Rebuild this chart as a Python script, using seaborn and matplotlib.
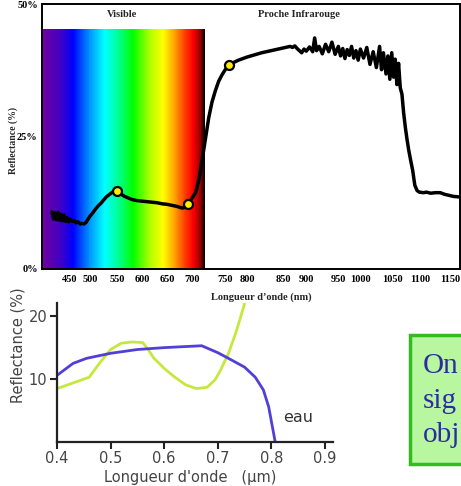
import numpy as np
import pandas as pd
import matplotlib
matplotlib.use("Agg")
import matplotlib.pyplot as plt
import seaborn as sns
from matplotlib.colors import LinearSegmentedColormap
from matplotlib.patches import Rectangle

# ---------------- data: vegetation reflectance spectrum (top chart) ----------------
veg_nm = [414, 417, 420, 423, 426, 429, 432, 435, 438, 441, 444, 447, 450, 455, 460, 465, 470, 475, 480, 485, 490,
          495, 500, 505, 510, 515, 520, 525, 530, 535, 540, 545, 550, 555, 560, 565, 570,
          575, 580, 590, 600, 610, 620, 630, 640, 650, 660, 670, 680, 685, 690, 695, 700,
          705, 710, 715, 720, 725, 730, 735, 740, 745, 750, 755, 760, 770, 780, 790, 800,
          810, 820, 830, 840, 850, 860, 865, 870, 875, 880, 885, 890, 895, 900, 905, 910,
          913, 916, 920, 925, 930, 935, 940, 945, 950, 955, 960, 965, 970, 975, 980, 985,
          990, 995, 1000, 1005, 1010, 1015, 1020, 1025, 1030, 1033, 1036, 1040, 1043, 1046,
          1049, 1052, 1055, 1058, 1061, 1064, 1067, 1070, 1073, 1076, 1079, 1082, 1086,
          1090, 1094, 1098, 1105, 1110, 1117, 1125, 1133, 1140, 1147, 1155, 1165]
veg_refl = [10.8, 9.4, 10.6, 9.3, 10.7, 9.2, 10.3, 9.1, 10.2, 9.0, 9.7, 8.9, 9.4, 9.0, 9.2, 8.7, 8.9, 8.5, 8.6, 8.5, 8.8,
            9.4, 10.0, 10.6, 11.3, 11.9, 12.4, 13.0, 13.6, 14.0, 14.4, 14.7, 14.8, 14.5, 14.0, 13.7, 13.5,
            13.3, 13.1, 12.9, 12.8, 12.7, 12.6, 12.5, 12.3, 12.2, 12.0, 11.8, 11.5, 11.6, 12.1, 12.6, 13.4,
            14.4, 16.8, 20.5, 24.5, 28.5, 31.5, 33.6, 35.4, 36.6, 37.6, 38.1, 38.5, 39.0, 39.4, 39.7, 40.0,
            40.4, 40.8, 41.1, 41.4, 41.7, 41.9, 42.0, 41.8, 42.1, 41.6, 41.2, 40.8, 41.5, 41.1, 41.9, 41.0,
            43.6, 41.2, 42.0, 40.6, 42.4, 41.0, 42.8, 40.5, 42.0, 40.2, 41.6, 39.7, 41.4, 40.3, 42.0, 39.8,
            41.2, 39.4, 41.5, 39.8, 41.8, 38.6, 41.0, 38.0, 42.0, 37.6, 40.8, 36.8, 40.2, 35.8,
            40.8, 36.2, 39.6, 34.8, 38.8, 34.2, 33.0, 29.5, 26.8, 24.5, 22.5, 20.8, 18.7,
            15.8, 14.8, 14.5, 14.4, 14.5, 14.3, 14.4, 14.4, 14.1, 13.9, 13.7, 13.6]
marker_nm = [550, 692, 759]
marker_refl = [14.7, 12.3, 38.5]

x_ticks_nm = [450, 500, 550, 600, 650, 700, 750, 800, 850, 900, 950, 1000, 1050, 1100, 1150]
y_ticks_pct = [0, 25, 50]
y_tick_labels = ["0%", "25%", "50%"]

# uneven wavelength axis of the original figure (value -> drawing position)
axis_knots_nm = [380, 450, 500, 550, 600, 650, 700, 750, 800, 850, 900, 950, 1000, 1050, 1100, 1150, 1200]
axis_knots_pos = [35, 70, 90, 117, 142, 167, 192, 225, 247, 283, 306, 338, 360, 392, 420, 450, 478]

# visible spectrum colour band
spectrum_nm = [394, 430, 457, 493, 527, 550, 582, 616, 642, 662, 682, 701, 712, 720]
spectrum_colors = ["#72009e", "#4200c4", "#0000ff", "#0080ff", "#00ffff", "#00ff9f", "#00ff00",
                   "#b0ff00", "#ffff00", "#ffb000", "#ff5000", "#ff0000", "#a00000", "#000000"]
spectrum_top = 45.3

# ---------------- data: small chart (bottom left) ----------------
eau_x = [0.40, 0.43, 0.455, 0.50, 0.55, 0.60, 0.67, 0.70, 0.72, 0.75, 0.77, 0.785, 0.795, 0.807]
eau_y = [10.5, 12.4, 13.2, 14.0, 14.6, 14.9, 15.2, 14.1, 13.2, 11.8, 10.2, 8.2, 5.5, 0.0]
veg2_x = [0.40, 0.42, 0.44, 0.46, 0.48, 0.50, 0.52, 0.54, 0.56, 0.57, 0.58, 0.60, 0.62, 0.64,
          0.66, 0.68, 0.695, 0.705, 0.72, 0.735, 0.748, 0.76]
veg2_y = [8.4, 9.0, 9.6, 10.2, 12.5, 14.6, 15.6, 15.8, 15.7, 14.6, 13.3, 11.6, 10.2, 9.0,
          8.4, 8.6, 9.8, 11.3, 14.0, 17.6, 21.3, 25.0]
small_xticks = [0.4, 0.5, 0.6, 0.7, 0.8, 0.9]
small_yticks = [10, 20]

# ---------------- style ----------------
sns.set_theme(style="white")
plt.rcParams["font.family"] = ["DejaVu Sans"]

W, H = 461, 486
fig = plt.figure(figsize=(W / 100, H / 100), dpi=100)

def fx(px):
    return px / W

def fy(py):
    return 1 - py / H

# ---------------- top chart ----------------
ax = fig.add_axes([fx(42), fy(269), fx(460 - 42), (269 - 4) / H])

kn = np.array(axis_knots_nm, float)
kp = np.array(axis_knots_pos, float)

def fwd(v):
    v = np.asarray(v, float)
    return np.interp(v, kn, kp)

def inv(p):
    p = np.asarray(p, float)
    return np.interp(p, kp, kn)

ax.set_xscale("function", functions=(fwd, inv))
ax.set_xlim(394, 1167)
ax.set_ylim(0, 50)

# spectrum band
cpos = [(n - spectrum_nm[0]) / (spectrum_nm[-1] - spectrum_nm[0]) for n in spectrum_nm]
cmap = LinearSegmentedColormap.from_list("spec", list(zip(cpos, spectrum_colors)))
edges = np.linspace(spectrum_nm[0], spectrum_nm[-1], 400)
centers = 0.5 * (edges[:-1] + edges[1:])
ax.pcolormesh(edges, [0, spectrum_top], centers[None, :], cmap=cmap,
              vmin=spectrum_nm[0], vmax=spectrum_nm[-1], shading="flat", zorder=0)

df_veg = pd.DataFrame({"nm": veg_nm, "refl": veg_refl})
sns.lineplot(data=df_veg, x="nm", y="refl", ax=ax, color="black", lw=2.5, sort=False, zorder=3)
df_mk = pd.DataFrame({"nm": marker_nm, "refl": marker_refl})
sns.scatterplot(data=df_mk, x="nm", y="refl", ax=ax, color="#ffee00", edgecolor="black",
                linewidth=1.6, s=42, zorder=4)

serif_b = dict(family=["Liberation Serif", "DejaVu Serif"], weight="bold")
ax.set_xticks(x_ticks_nm)
ax.set_xticklabels([str(t) for t in x_ticks_nm], fontdict=dict(size=7.5, **serif_b))
ax.set_yticks(y_ticks_pct)
ax.set_yticklabels(y_tick_labels, fontdict=dict(size=7.5, **serif_b))
ax.tick_params(axis="both", length=0, pad=4, colors="black")
ax.tick_params(axis="y", pad=3)
ax.set_xlabel("")
ax.set_ylabel("")
for s in ax.spines.values():
    s.set_color("black")
    s.set_linewidth(1.4)
ax.text(560, 48.0, "Visible", ha="center", va="center", fontsize=7.5, **serif_b)
ax.text(885, 48.0, "Proche Infrarouge", ha="center", va="center", fontsize=7.5, **serif_b)
fig.text(fx(261), fy(297), "Longueur d\u2019onde (nm)", ha="center", va="center",
         fontsize=7.5, **serif_b)
fig.text(fx(13), fy(141), "Reflectance (%)", ha="center", va="center", rotation=90,
         fontsize=7, **serif_b)

# ---------------- bottom-left chart ----------------
ax2 = fig.add_axes([fx(57), fy(441.5), fx(333 - 57), 138.6 / H])
ax2.set_xlim(0.4, 0.915)
ax2.set_ylim(0, 22)
df_eau = pd.DataFrame({"x": eau_x, "y": eau_y})
df_v2 = pd.DataFrame({"x": veg2_x, "y": veg2_y})
sns.lineplot(data=df_v2, x="x", y="y", ax=ax2, color="#c6e83e", lw=2.0, sort=False)
sns.lineplot(data=df_eau, x="x", y="y", ax=ax2, color="#5040d8", lw=2.0, sort=False)
ax2.set_xlabel("")
ax2.set_ylabel("")
ax2.set_xticks(small_xticks)
ax2.set_xticklabels([f"{t:.1f}" for t in small_xticks])
ax2.set_yticks(small_yticks)
ax2.set_yticklabels([str(t) for t in small_yticks])
ax2.tick_params(axis="both", direction="out", length=5, width=1.5, color="#222",
                labelcolor="#444", labelsize=10.5, pad=2)
ax2.tick_params(axis="x", bottom=True)
ax2.tick_params(axis="y", left=True)
ax2.spines["top"].set_visible(False)
ax2.spines["right"].set_visible(False)
for k in ("left", "bottom"):
    ax2.spines[k].set_color("#222")
    ax2.spines[k].set_linewidth(1.6)
ax2.patch.set_alpha(0)
ax2.text(0.822, 3.8, "eau", ha="left", va="center", fontsize=11.5, color="#333")
fig.text(fx(190), fy(477), "Longueur d'onde   (\u00b5m)", ha="center", va="center",
         fontsize=10.5, color="#444")
fig.text(fx(18), fy(345), "Reflectance (%)", ha="center", va="center", rotation=90,
         fontsize=10.5, color="#444")

# ---------------- green text box (cut by right edge) ----------------
fig.add_artist(Rectangle((fx(410), fy(464)), fx(60), 129 / H, transform=fig.transFigure,
                         facecolor="#b8f7a0", edgecolor="#34bb20", linewidth=2.5))
box_lines = ["On", "sig", "obj"]
for i, line in enumerate(box_lines):
    fig.text(fx(423), fy(373 + 34.5 * i), line, ha="left", va="baseline", fontsize=21,
             color="#2c2ca0", family=["Liberation Serif", "DejaVu Serif"])

fig.savefig("out.png", dpi=100)
